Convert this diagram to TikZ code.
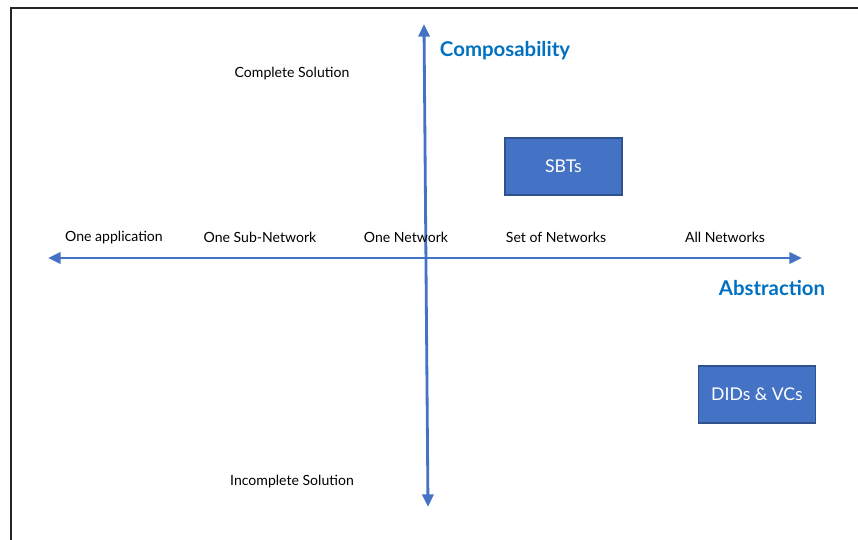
\documentclass[tikz,border=0pt]{standalone}
\usepackage{fontspec}
\setmainfont{Lato}
\usetikzlibrary{arrows.meta}

\begin{document}
\begin{tikzpicture}[x=0.025cm,y=-0.025cm]
        %colores
        \definecolor{eje}{HTML}{4472C4}
        \definecolor{borde}{HTML}{2F528F}
        \definecolor{titulo}{HTML}{0070C0}
        \tikzset{
            etiqueta/.style={font=\fontsize{10}{12}\selectfont, text=black},
            titulo/.style={font=\fontsize{14.5}{17}\selectfont\bfseries, text=titulo},
            caja/.style={draw=borde, fill=eje, text=white, line width=0.8pt,
                minimum width=2.925cm, minimum height=1.425cm,
                font=\fontsize{12.5}{14}\selectfont},
            flecha/.style={eje, line width=2pt, {Triangle[length=9pt,width=8pt]}-{Triangle[length=9pt,width=8pt]}}
        }
        \useasboundingbox (0,0) rectangle (858,540);

        % Marco
        \draw[black!85, line width=1pt] (11,540) -- (11,8) -- (858,8);

        % Ejes
        \coordinate (arriba) at (424,24);
        \coordinate (abajo) at (428,507);
        \coordinate (izq) at (48,258);
        \coordinate (der) at (802,258);
        \draw[flecha] (abajo) -- (arriba);
        \draw[flecha] (izq) -- (der);

        % Titulos de ejes
        \node[titulo] (composability) at (505,51) {Composability};
        \node[titulo] (abstraction) at (772,288) {Abstraction};
        \node[etiqueta] (complete) at (292,73.5) {Complete Solution};
        \node[etiqueta] (incomplete) at (292,481.5) {Incomplete Solution};

        % Niveles de abstraccion
        \foreach \x/\n/\xtext in {114/app/One application,260/sub/One Sub-Network,406/one/One Network,556/set/Set of Networks,725/all/All Networks}
            \node[etiqueta] (\n) at (\x,237.5) {\xtext};

        % Cajas
        \node[caja] (sbts) at (563.5,166.5) {SBTs};
        \node[caja] (dids) at (757,394.5) {DIDs \& VCs};
    \end{tikzpicture}
\end{document}
